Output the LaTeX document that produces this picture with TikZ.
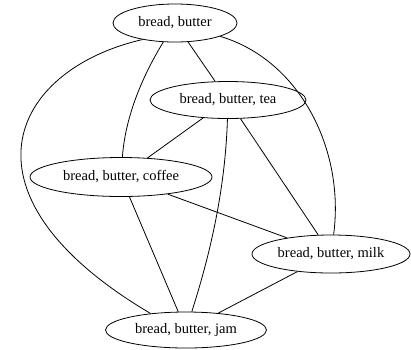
\documentclass[tikz,border=0pt]{standalone}
\usepackage{fontspec}
\setmainfont{Liberation Serif}
\usetikzlibrary{shapes.geometric}
\begin{document}
\begin{tikzpicture}[x=1pt,y=-1pt,
  item/.style={ellipse,draw,line width=0.8pt,inner sep=0pt,font=\fontsize{14.5}{16}\selectfont},
  link/.style={line width=0.8pt}]
\useasboundingbox (0,0) rectangle (411,349);
\node[item,minimum width=124pt,minimum height=38pt] (A) at (175,23) {bread, butter};
\node[item,minimum width=156pt,minimum height=37pt] (T) at (228,100) {bread, butter, tea};
\node[item,minimum width=182pt,minimum height=39pt] (C) at (121,177) {bread, butter, coffee};
\node[item,minimum width=158pt,minimum height=38pt] (M) at (331,254) {bread, butter, milk};
\node[item,minimum width=161pt,minimum height=36pt] (J) at (186,330) {bread, butter, jam};
\draw[link] (A.207) .. controls (10,70) and (-50,195) .. (J.155);
\draw[link] (A) .. controls (140,80) and (125,120) .. (C);
\draw[link] (A) -- (T);
\draw[link] (A) .. controls (300,60) and (345,150) .. (M);
\draw[link] (T) -- (C);
\draw[link] (T) .. controls (225,200) and (205,270) .. (J);
\draw[link] (T) -- (M);
\draw[link] (C) -- (J);
\draw[link] (C) -- (M);
\draw[link] (M) -- (J);
\end{tikzpicture}
\end{document}
